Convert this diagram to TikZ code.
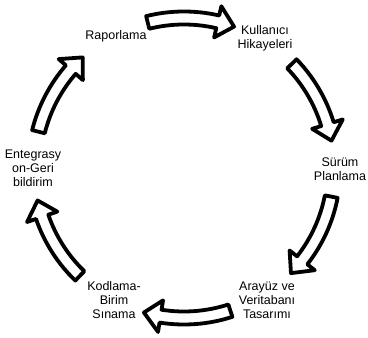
\documentclass[tikz,border=0pt]{standalone}
\usepackage{fontspec}
\setmainfont{Liberation Sans}

\tikzset{
  steplabel/.style={align=center,font=\fontsize{12.5}{14}\selectfont},
  blockarrow/.style={draw=black,fill=white,line width=3.8pt,line join=round}
}

\begin{document}
\begin{tikzpicture}[x=1pt,y=1pt]

\useasboundingbox (0,0) rectangle (368,338);

% Centre of the cycle
\coordinate (c) at (184,170);

% Block arrows (tail at a+16, head base at a-11, tip at a-17)
\foreach \a in {88,28,-27,-88,-150,150}{
  \draw[blockarrow,shift={(c)}]
    ({\a+16}:156.5) arc[start angle={\a+16},end angle={\a-11},radius=156.5]
    -- ({\a-11}:166) -- ({\a-17.5}:150) -- ({\a-11}:134)
    -- ({\a-11}:143.5) arc[start angle={\a-11},end angle={\a+16},radius=143.5]
    -- cycle;
}

% Labels
\node[steplabel] (rapor) at (116,302) {Raporlama};
\node[steplabel] (kullanici) at (265,300) {Kullanıcı\\Hikayeleri};
\node[steplabel] (surum) at (340,169) {Sürüm\\Planlama};
\node[steplabel] (arayuz) at (267,38) {Arayüz ve\\Veritabanı\\Tasarımı};
\node[steplabel] (kodlama) at (114,38) {Kodlama-\\Birim\\Sınama};
\node[steplabel] (entegrasyon) at (33,170) {Entegrasy\\on-Geri\\bildirim};

\end{tikzpicture}
\end{document}
